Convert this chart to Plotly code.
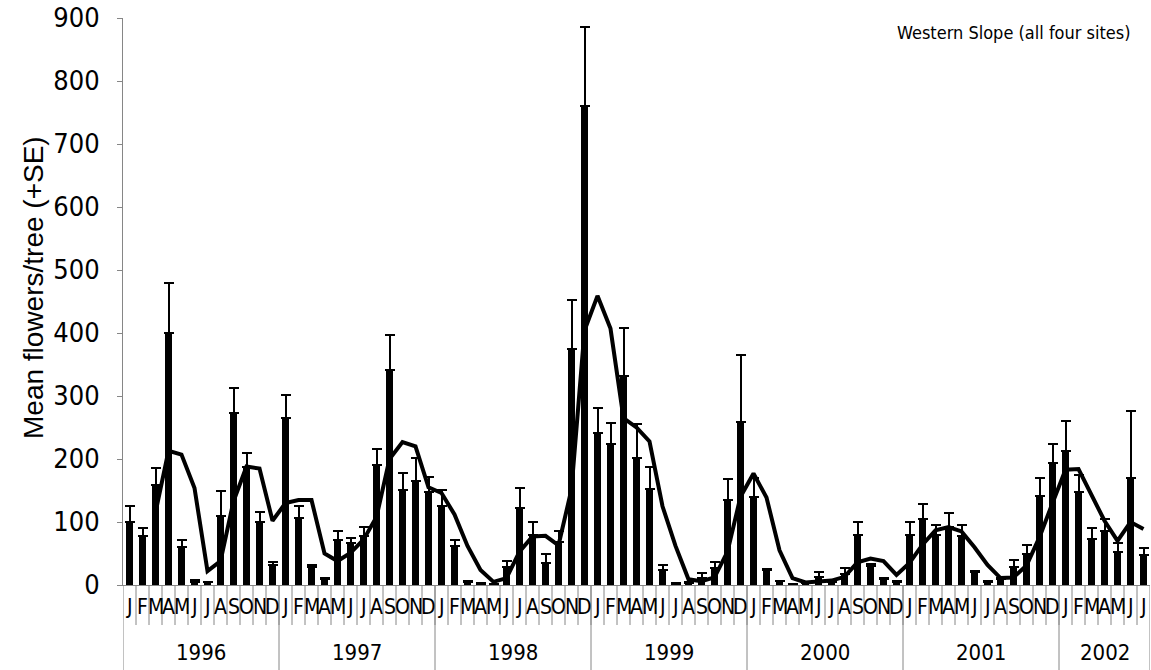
import plotly.graph_objects as go

# ---------------- data ----------------
years = ["1996", "1997", "1998", "1999", "2000", "2001", "2002"]
month_letters = ["J", "F", "M", "A", "M", "J", "J", "A", "S", "O", "N", "D"]

mean_1996 = [100, 78, 159, 400, 60, 5, 4, 110, 273, 188, 100, 32]
mean_1997 = [265, 107, 29, 9, 72, 66, 78, 190, 342, 151, 165, 148]
mean_1998 = [126, 62, 5, 2, 1, 28, 122, 80, 35, 68, 375, 760]
mean_1999 = [241, 224, 331, 201, 153, 24, 2, 3, 11, 27, 135, 258]
mean_2000 = [139, 24, 6, 1.5, 2.5, 12, 5, 17, 79, 30, 9, 5]
mean_2001 = [80, 104, 80, 92, 77, 20, 5, 9, 29, 50, 142, 193]
mean_2002 = [213, 147, 73, 85, 52, 170, 48]

se_1996 = [26, 13, 27, 79, 12, 3, 1, 39, 39, 21, 16, 5]
se_1997 = [37, 19, 3, 2, 14, 9, 14, 26, 55, 27, 36, 24]
se_1998 = [25, 9, 1, 1, 0.5, 10, 32, 20, 14, 18, 77, 125]
se_1999 = [40, 33, 77, 54, 35, 7, 0.5, 1, 8, 10, 33, 107]
se_2000 = [31, 2, 1, 0.5, 0.5, 8, 1, 10, 21, 4, 1.6, 1]
se_2001 = [20, 24, 16, 23, 19, 3, 1, 2.6, 10, 13.5, 28, 31]
se_2002 = [48, 28, 17, 19, 15, 106, 11]

# 3-month moving-average line (starts in March 1996)
trend_values = [
    115, 213, 207, 154, 22, 38, 133, 188, 185, 102,                 # 1996 Mar-Dec
    130, 135, 135, 50, 38, 51, 72, 108, 200, 227, 220, 155,          # 1997
    146, 112, 62, 24, 5, 11, 53, 77, 78, 63, 152, 404,               # 1998
    459, 407, 265, 250, 228, 125, 62, 9, 6, 12, 53, 140,             # 1999
    177, 139, 55, 11, 4, 6, 7, 13, 36, 42, 38, 16,                   # 2000
    35, 64, 87, 92, 85, 60, 32, 11, 12, 31, 76, 130,                 # 2001
    183, 184, 142, 102, 70, 100, 89,                                 # 2002 Jan-Jul
]

means = mean_1996 + mean_1997 + mean_1998 + mean_1999 + mean_2000 + mean_2001 + mean_2002
ses = se_1996 + se_1997 + se_1998 + se_1999 + se_2000 + se_2001 + se_2002
months_per_year = [12, 12, 12, 12, 12, 12, 7]

n = len(means)
idx = list(range(n))
ticklabels = [month_letters[i % 12] for i in idx]

FONT = "Liberation Sans, Arial, sans-serif"
NARROW = "DejaVu Sans Condensed, Liberation Sans, sans-serif"
GREY = "#868686"

fig = go.Figure()
fig.add_trace(go.Bar(
    x=idx, y=means, width=0.57,
    marker=dict(color="black", line=dict(width=0)),
    error_y=dict(type="data", symmetric=False, array=ses, arrayminus=[0] * n,
                 color="black", thickness=2, width=5),
    showlegend=False,
))
fig.add_trace(go.Scatter(
    x=idx[2:], y=trend_values, mode="lines",
    line=dict(color="black", width=4),
    showlegend=False,
))

# plot geometry (pixels) for paper-coordinate helpers
H_PLOT = 670 - 18 - 85
W_PLOT = 1151 - 123 - 1

shapes = []
annotations = []
# month separators
for i in range(1, n):
    shapes.append(dict(type="line", xref="x", yref="paper", x0=i - 0.5, x1=i - 0.5,
                       y0=0, y1=-40 / H_PLOT, line=dict(color=GREY, width=1)))
# year separators + year labels
start = 0
for yr, cnt in zip(years, months_per_year):
    shapes.append(dict(type="line", xref="x", yref="paper", x0=start - 0.5, x1=start - 0.5,
                       y0=0, y1=-85 / H_PLOT, line=dict(color=GREY, width=1)))
    annotations.append(dict(text=yr, xref="x", yref="paper", x=start + (cnt - 1) / 2,
                            y=-67 / H_PLOT, showarrow=False, yanchor="middle",
                            font=dict(family=NARROW, size=22, color="black")))
    start += cnt
shapes.append(dict(type="line", xref="x", yref="paper", x0=n - 0.5, x1=n - 0.5,
                   y0=0, y1=-85 / H_PLOT, line=dict(color=GREY, width=1)))
# month letters
for i in idx:
    annotations.append(dict(text=ticklabels[i], xref="x", yref="paper", x=i,
                            y=-22 / H_PLOT, showarrow=False, yanchor="middle",
                            font=dict(family=NARROW, size=21, color="black")))
# y title
annotations.append(dict(text="Mean flowers/tree (+SE)", xref="paper", yref="paper",
                        x=(33 - 123) / W_PLOT, y=(585 - 288) / H_PLOT, textangle=-90,
                        showarrow=False, xanchor="center", yanchor="middle",
                        font=dict(family=FONT, size=28, color="black")))
# chart label
annotations.append(dict(text="Western Slope (all four sites)", xref="paper", yref="paper",
                        x=(1133 - 123) / W_PLOT, y=(585 - 32) / H_PLOT,
                        showarrow=False, xanchor="right", yanchor="middle",
                        font=dict(family=NARROW, size=18, color="black")))

fig.update_layout(
    width=1151, height=670,
    margin=dict(l=123, r=1, t=18, b=85),
    paper_bgcolor="white", plot_bgcolor="white",
    bargap=0, shapes=shapes, annotations=annotations,
    font=dict(family=FONT, color="black"),
    xaxis=dict(range=[-0.5, n - 0.5], showticklabels=False, ticks="",
               showgrid=False, zeroline=False, showline=True, linecolor=GREY,
               linewidth=1, fixedrange=True),
    yaxis=dict(range=[0, 900], dtick=100, tick0=0, ticks="outside", ticklen=5,
               tickcolor=GREY, tickwidth=1, showgrid=False, zeroline=False,
               showline=True, linecolor=GREY, linewidth=1,
               tickfont=dict(family=NARROW, size=27, color="black"),
               ticklabelstandoff=12, automargin=False),
)

fig.write_html("out.html")
